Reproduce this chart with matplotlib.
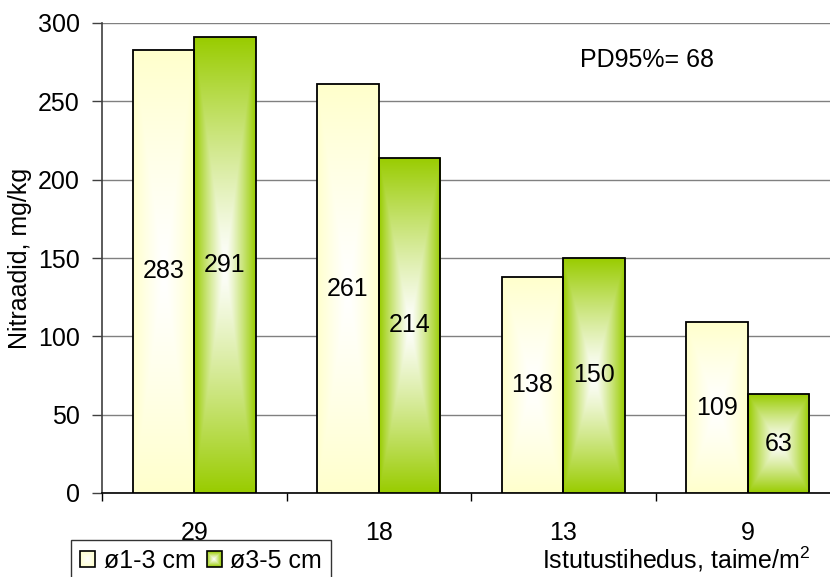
import numpy as np
import matplotlib
matplotlib.use("Agg")
import matplotlib.pyplot as plt
from matplotlib.patches import Rectangle
from matplotlib.legend_handler import HandlerBase
from matplotlib.colors import to_rgb

plt.rcParams['font.family'] = ['Liberation Sans', 'DejaVu Sans']
plt.rcParams['mathtext.fontset'] = 'custom'
plt.rcParams['mathtext.rm'] = 'Liberation Sans'
plt.rcParams['mathtext.it'] = 'Liberation Sans:italic'
plt.rcParams['mathtext.bf'] = 'Liberation Sans:bold'

# Data
densities = ["29", "18", "13", "9"]
small_bulbs = [283, 261, 138, 109]   # ø1-3 cm
large_bulbs = [291, 214, 150, 63]    # ø3-5 cm
series_labels = ["ø1-3 cm", "ø3-5 cm"]
y_ticks = [0, 50, 100, 150, 200, 250, 300]

YELLOW = "#FFFFCC"
GREEN = "#99CC00"
FS = 18

W, H = 830, 577
fig = plt.figure(figsize=(W / 100, H / 100), dpi=100)
ax = fig.add_axes([102 / W, (H - 493) / H, 738 / W, 470 / H])

x = np.arange(len(densities))
bw = 0.334


def blend(color, t):
    base = np.array(to_rgb(color))
    return (1 - t) * np.ones(3) + t * base


def center_gradient(color, nx=120, ny=240):
    """Rectangular 'from centre' gradient: white in the middle, colour at the edges."""
    u = np.linspace(-1, 1, nx)
    v = np.linspace(-1, 1, ny)
    U, V = np.meshgrid(u, v)
    t = np.maximum(np.abs(U), np.abs(V)) ** 1.2
    base = np.array(to_rgb(color))
    return (1 - t[..., None]) * np.ones(3) + t[..., None] * base


def gradient_bars(xpos, values, color):
    bars = ax.bar(xpos, values, width=bw, facecolor="none", edgecolor="black",
                  linewidth=1.3, zorder=4)
    grad = center_gradient(color)
    for b in bars:
        x0, y0 = b.get_x(), b.get_y()
        w, h = b.get_width(), b.get_height()
        im = ax.imshow(grad, extent=[x0, x0 + w, y0, y0 + h], origin="lower",
                       aspect="auto", interpolation="bilinear", zorder=3)
        im.set_clip_path(b)
    return bars


gradient_bars(x - bw / 2, small_bulbs, YELLOW)
gradient_bars(x + bw / 2, large_bulbs, GREEN)

for xi, v in zip(x - bw / 2, small_bulbs):
    ax.text(xi, v / 2, str(v), ha="center", va="center", fontsize=FS, zorder=5)
for xi, v in zip(x + bw / 2, large_bulbs):
    ax.text(xi, v / 2, str(v), ha="center", va="center", fontsize=FS, zorder=5)

ax.set_xlim(-0.5, len(densities) - 0.5)
ax.set_ylim(0, 300)
ax.set_yticks(y_ticks)
ax.yaxis.grid(True, color="#808080", linewidth=1.0)
ax.set_axisbelow(True)

ax.set_xticks(np.arange(-0.5, len(densities), 1.0))
ax.set_xticklabels([])
ax.set_xticks(x, minor=True)
ax.set_xticklabels(densities, minor=True, fontsize=FS)
ax.tick_params(axis="x", which="major", length=6, width=1, color="black", direction="out")
ax.tick_params(axis="x", which="minor", length=0, pad=20)
ax.tick_params(axis="y", length=7, width=1, color="#404040", pad=9, labelsize=FS)

for side in ("top", "right"):
    ax.spines[side].set_visible(False)
ax.spines["left"].set_color("#404040")
ax.spines["left"].set_linewidth(1.2)
ax.spines["bottom"].set_color("black")
ax.spines["bottom"].set_linewidth(1.2)

fig.text(20 / W, 1 - 258 / H, "Nitraadid, mg/kg", rotation=90,
         ha="center", va="center", fontsize=FS)
fig.text(542 / W, 1 - 568 / H, "Istutustihedus, taime/m$^{2}$",
         ha="left", va="baseline", fontsize=FS)
fig.text(580 / W, 1 - 60 / H, "PD95%= 68", ha="left", va="center", fontsize=FS)


class GradientSquare:
    def __init__(self, color):
        self.color = color


class HandlerGradientSquare(HandlerBase):
    """Legend key drawn as a small square shaded from the edges towards a white centre."""

    def create_artists(self, legend, orig_handle, xdescent, ydescent, width,
                       height, fontsize, trans):
        side = min(width, height)
        cx = -xdescent + width / 2
        cy = -ydescent + height / 2
        artists = []
        steps = 8
        for i in range(steps):
            frac = 1 - i / steps
            s = side * frac
            t = frac ** 1.2
            r = Rectangle((cx - s / 2, cy - s / 2), s, s,
                          facecolor=blend(orig_handle.color, t),
                          edgecolor="none", transform=trans)
            artists.append(r)
        artists.append(Rectangle((cx - side / 2, cy - side / 2), side, side,
                                 facecolor="none", edgecolor="black",
                                 linewidth=1.2, transform=trans))
        return artists


handles = [GradientSquare(YELLOW), GradientSquare(GREEN)]
leg = fig.legend(handles, series_labels, loc="upper left",
                 bbox_to_anchor=(71 / W, 1 - 540 / H), ncol=2, fontsize=FS,
                 frameon=True, fancybox=False, edgecolor="black",
                 handler_map={GradientSquare: HandlerGradientSquare()},
                 handlelength=0.62, handleheight=0.62, handletextpad=0.33,
                 columnspacing=0.45, borderpad=0.35, borderaxespad=0)
leg.get_frame().set_linewidth(1.0)

fig.savefig("out.png", dpi=100)
